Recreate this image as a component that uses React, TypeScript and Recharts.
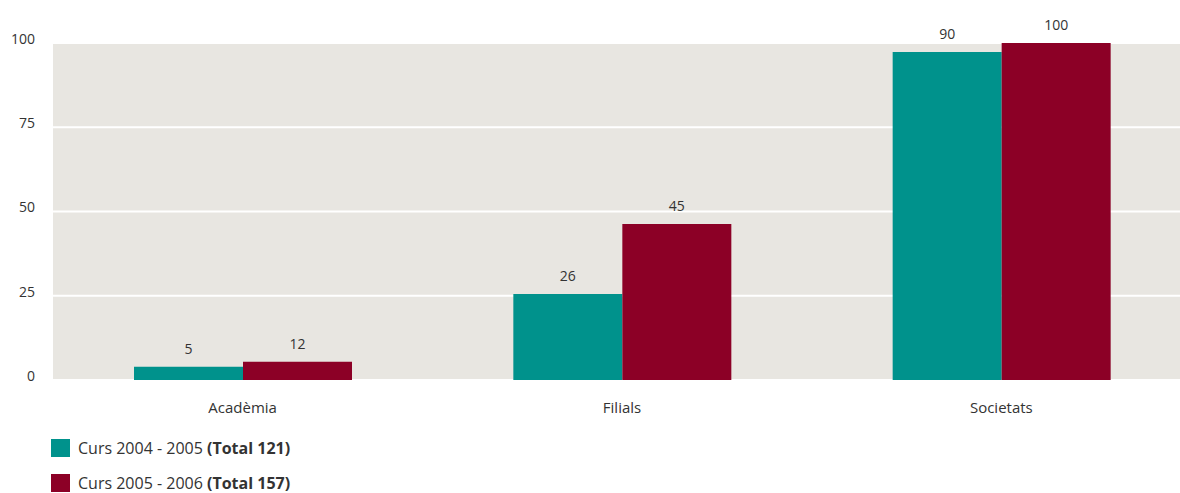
import { BarChart, Bar, XAxis, YAxis, CartesianGrid, LabelList } from "recharts";

const CATEGORIES = ["Acadèmia", "Filials", "Societats"];
// bar heights as drawn in the picture
const CURS_0405 = [3.9, 25.5, 97.3];
const CURS_0506 = [5.4, 46.3, 100];
// numbers printed above the bars
const LABELS_0405 = [5, 26, 90];
const LABELS_0506 = [12, 45, 100];
const Y_TICKS = [0, 25, 50, 75, 100];

const TEAL = "#00928c";
const MAROON = "#8c0026";
const PLOT_BG = "#e8e6e1";
const TEXT = "#333333";
const FONT = "'Open Sans', sans-serif";

const data = CATEGORIES.map((name, i) => ({
  name,
  c0405: CURS_0405[i],
  c0506: CURS_0506[i],
  l0405: LABELS_0405[i],
  l0506: LABELS_0506[i],
}));

const YTick = ({ y, payload }: any) => (
  <text x={35} y={y - 3} textAnchor="end" dominantBaseline="middle" fill={TEXT} fontSize={14} fontFamily={FONT}>
    {payload.value}
  </text>
);

const LEGEND = [
  { color: TEAL, text: "Curs 2004 - 2005 ", bold: "(Total 121)", top: 437 },
  { color: MAROON, text: "Curs 2005 - 2006 ", bold: "(Total 157)", top: 472 },
];

export default function App() {
  return (
    <div
      style={{
        position: "absolute",
        left: 0,
        top: 0,
        width: 1180,
        height: 493,
        overflow: "hidden",
        background: "#fff",
        fontFamily: FONT,
      }}
    >
      <BarChart
        width={1191}
        height={420}
        data={data}
        margin={{ top: 43, right: 0, left: 0, bottom: 0 }}
        barGap={0}
        barSize={109}
      >
        <CartesianGrid vertical={false} fill={PLOT_BG} stroke="#ffffff" strokeWidth={2} />
        <XAxis
          dataKey="name"
          height={40}
          axisLine={false}
          tickLine={false}
          tick={{ fill: TEXT, fontSize: 15, fontFamily: FONT }}
          dy={14}
        />
        <YAxis
          width={53}
          domain={[0, 100]}
          ticks={Y_TICKS}
          axisLine={false}
          tickLine={false}
          tick={<YTick />}
        />
        <Bar dataKey="c0405" fill={TEAL} isAnimationActive={false}>
          <LabelList dataKey="l0405" position="top" offset={13} fill={TEXT} fontSize={14} fontFamily={FONT} />
        </Bar>
        <Bar dataKey="c0506" fill={MAROON} isAnimationActive={false}>
          <LabelList dataKey="l0506" position="top" offset={13} fill={TEXT} fontSize={14} fontFamily={FONT} />
        </Bar>
      </BarChart>
      {LEGEND.map((l) => (
        <div
          key={l.text}
          style={{ position: "absolute", left: 51, top: l.top, display: "flex", alignItems: "center" }}
        >
          <div style={{ width: 19, height: 18, background: l.color }} />
          <span style={{ marginLeft: 8, fontSize: 16, color: TEXT, whiteSpace: "pre" }}>
            {l.text}
            <b>{l.bold}</b>
          </span>
        </div>
      ))}
    </div>
  );
}
